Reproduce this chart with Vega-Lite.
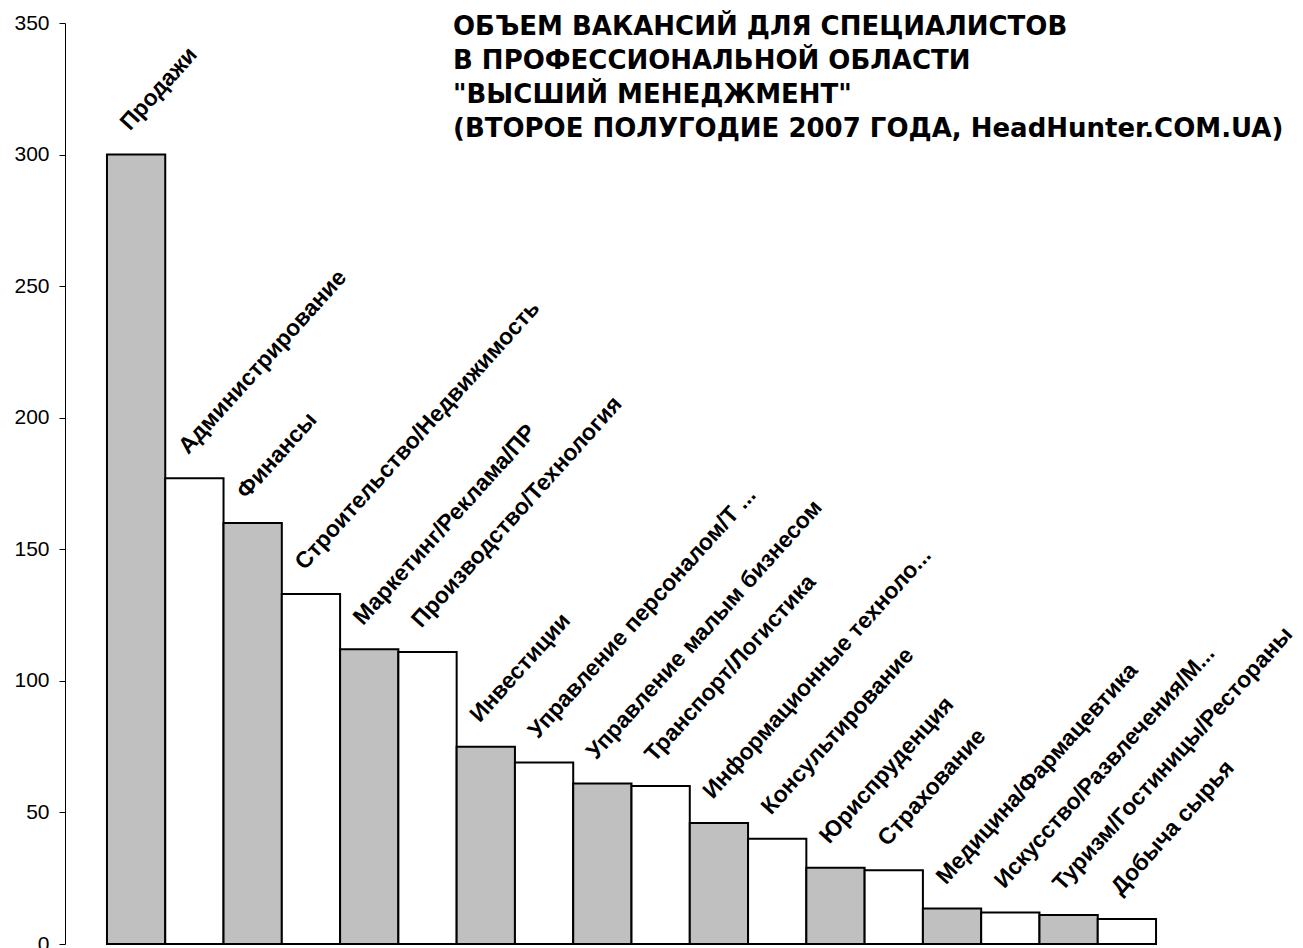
{
  "$schema": "https://vega.github.io/schema/vega-lite/v6.json",
  "width": 1133,
  "height": 921,
  "autosize": "none",
  "padding": {"left": 65, "top": 23, "right": 105, "bottom": 4},
  "background": "white",
  "title": {
    "text": ["ОБЪЕМ  ВАКАНСИЙ ДЛЯ СПЕЦИАЛИСТОВ", "В ПРОФЕССИОНАЛЬНОЙ ОБЛАСТИ", "\"ВЫСШИЙ МЕНЕДЖМЕНТ\"", "(ВТОРОЕ ПОЛУГОДИЕ 2007 ГОДА, HeadHunter.COM.UA)"],
    "anchor": "start",
    "frame": "group",
    "orient": "top",
    "baseline": "top",
    "offset": 0,
    "dx": 388,
    "dy": 130,
    "font": "DejaVu Sans",
    "fontSize": 26,
    "fontWeight": "bold",
    "color": "black",
    "lineHeight": 34
  },
  "data": {
    "values": [
      {"area": "Продажи", "value": 300, "shade": "g"},
      {"area": "Администрирование", "value": 177, "shade": "w"},
      {"area": "Финансы", "value": 160, "shade": "g"},
      {"area": "Строительство/Недвижимость", "value": 133, "shade": "w"},
      {"area": "Маркетинг/Реклама/ПР", "value": 112, "shade": "g"},
      {"area": "Производство/Технология", "value": 111, "shade": "w"},
      {"area": "Инвестиции", "value": 75, "shade": "g"},
      {"area": "Управление персоналом/Т ...", "value": 69, "shade": "w"},
      {"area": "Управление малым бизнесом", "value": 61, "shade": "g"},
      {"area": "Транспорт/Логистика", "value": 60, "shade": "w"},
      {"area": "Информационные техноло...", "value": 46, "shade": "g"},
      {"area": "Консультирование", "value": 40, "shade": "w"},
      {"area": "Юриспруденция", "value": 29, "shade": "g"},
      {"area": "Страхование", "value": 28, "shade": "w"},
      {"area": "Медицина/Фармацевтика", "value": 13.5, "shade": "g"},
      {"area": "Искусство/Развлечения/М...", "value": 12, "shade": "w"},
      {"area": "Туризм/Гостиницы/Рестораны", "value": 11, "shade": "g"},
      {"area": "Добыча сырья", "value": 9.5, "shade": "w"}
    ]
  },
  "encoding": {
    "x": {
      "field": "area",
      "type": "nominal",
      "sort": null,
      "axis": null,
      "scale": {"paddingInner": 0, "paddingOuter": 0.72}
    },
    "y": {
      "field": "value",
      "type": "quantitative",
      "scale": {"domain": [0, 350], "nice": false, "zero": true},
      "axis": {
        "title": null,
        "values": [0, 50, 100, 150, 200, 250, 300, 350],
        "grid": false,
        "domainColor": "black",
        "domainWidth": 1,
        "tickColor": "black",
        "tickSize": 6,
        "tickWidth": 1,
        "labelPadding": 10,
        "labelFont": "Liberation Sans",
        "labelFontSize": 21,
        "labelColor": "black"
      }
    }
  },
  "layer": [
    {
      "mark": {"type": "bar", "stroke": "black", "strokeWidth": 2},
      "encoding": {
        "color": {
          "field": "shade",
          "type": "nominal",
          "scale": {"domain": ["g", "w"], "range": ["#c0c0c0", "#ffffff"]},
          "legend": null
        }
      }
    },
    {
      "mark": {
        "type": "text",
        "align": "left",
        "baseline": "alphabetic",
        "angle": -48,
        "dx": 13,
        "dy": -20,
        "font": "Liberation Sans",
        "fontSize": 23,
        "fontWeight": "bold",
        "color": "black"
      },
      "encoding": {"text": {"field": "area"}}
    }
  ],
  "config": {"view": {"stroke": null}}
}
